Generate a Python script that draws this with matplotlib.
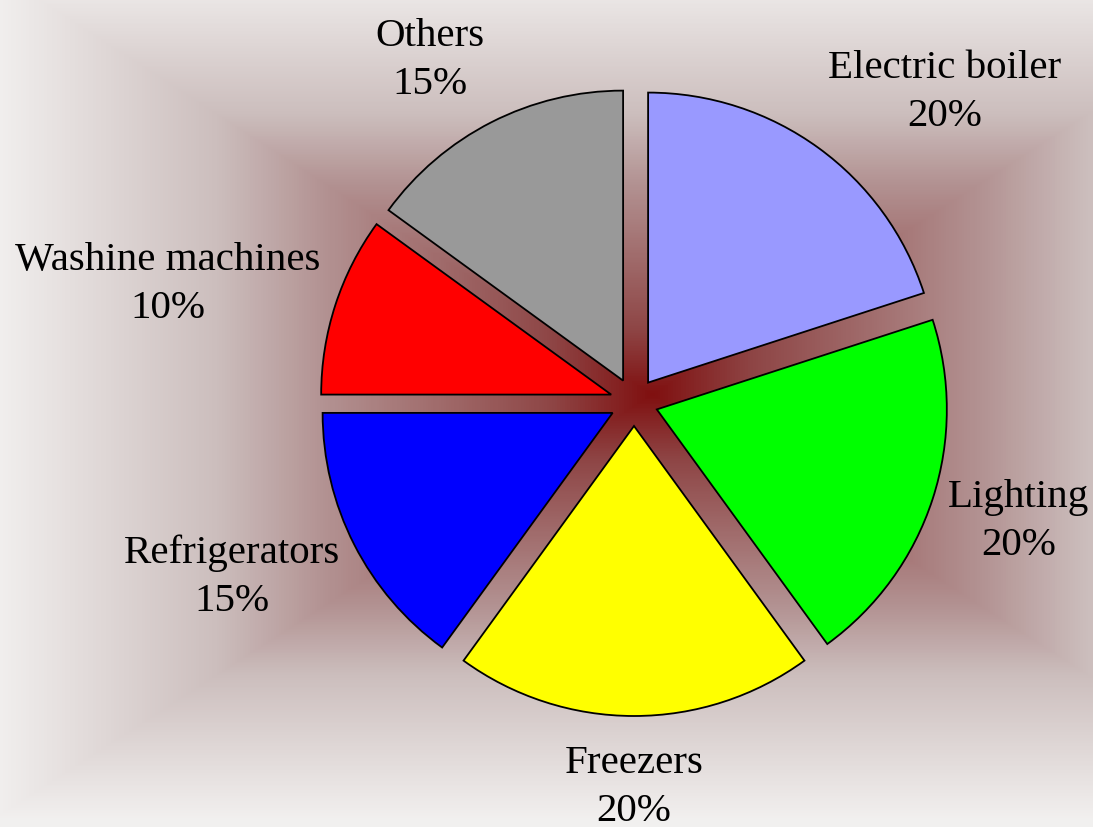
import numpy as np
import matplotlib
matplotlib.use("Agg")
import matplotlib.pyplot as plt
from matplotlib.colors import LinearSegmentedColormap

# ---- data ----
categories = ["Electric boiler", "Lighting", "Freezers", "Refrigerators",
              "Washine machines", "Others"]
shares = [20, 20, 20, 15, 10, 15]
colors = ["#9999FF", "#00FF00", "#FFFF00", "#0000FF", "#FF0000", "#999999"]

W, H, DPI = 1093, 828, 100
R_PX = 290.0            # pie radius in pixels
CX, CY = 634.0, 403.0   # pie centre (pixels from top-left)
GX, GY = 652.0, 395.0   # background gradient centre

plt.rcParams['font.family'] = ['Liberation Serif', 'DejaVu Serif']

fig = plt.figure(figsize=(W / DPI, H / DPI), dpi=DPI)
ax = fig.add_axes([0, 0, 1, 1])
x0, x1 = -CX / R_PX, (W - CX) / R_PX
y0, y1 = -(H - CY) / R_PX, CY / R_PX
ax.set_xlim(x0, x1)
ax.set_ylim(y0, y1)
ax.set_aspect('equal')
ax.axis('off')

# ---- rectangular (box) gradient background ----
yy, xx = np.mgrid[0:H, 0:W]
t = np.maximum(np.abs(xx - GX) / 660.0, np.abs(yy - GY) / 425.0)
t = np.clip(t, 0, 1)
cmap = LinearSegmentedColormap.from_list("bg", [
    (0.00, "#801010"),
    (0.15, "#8e4545"),
    (0.50, "#b39393"),
    (0.66, "#ccbebd"),
    (1.00, "#f2f0ef"),
])
ax.imshow(cmap(t), extent=(x0, x1, y0, y1), origin='upper',
          aspect='auto', zorder=0, interpolation='bilinear')

# ---- pie ----
explode = [24.0 / R_PX] * len(shares)
wedges, _ = ax.pie(shares, colors=colors, explode=explode, startangle=90,
                   counterclock=False, radius=1.0, center=(0, 0),
                   wedgeprops=dict(edgecolor='black', linewidth=1.3),
                   frame=True)
for w in wedges:
    w.set_zorder(2)
ax.set_xlim(x0, x1)
ax.set_ylim(y0, y1)
ax.axis('off')

# ---- labels ----
renderer = fig.canvas.get_renderer()
total = float(sum(shares))
r0x, r0y = 1.137, 1.178
for w, cat, val in zip(wedges, categories, shares):
    mid = np.deg2rad((w.theta1 + w.theta2) / 2.0)
    ux, uy = np.cos(mid), np.sin(mid)
    if abs(ux) < 1e-3:
        ha = 'center'
    else:
        ha = 'left' if ux > 0 else 'right'
    txt = ax.text(r0x * ux, r0y * uy, f"{cat}\n{val / total * 100:.0f}%",
                  ha=ha, va='center', multialignment='center',
                  fontsize=29.5, color='black', zorder=3, linespacing=1.4)
    bb = txt.get_window_extent(renderer=renderer)
    dy = uy * bb.height / 2.0 / R_PX
    txt.set_position((r0x * ux, r0y * uy + dy))

fig.savefig("out.png", dpi=DPI)
